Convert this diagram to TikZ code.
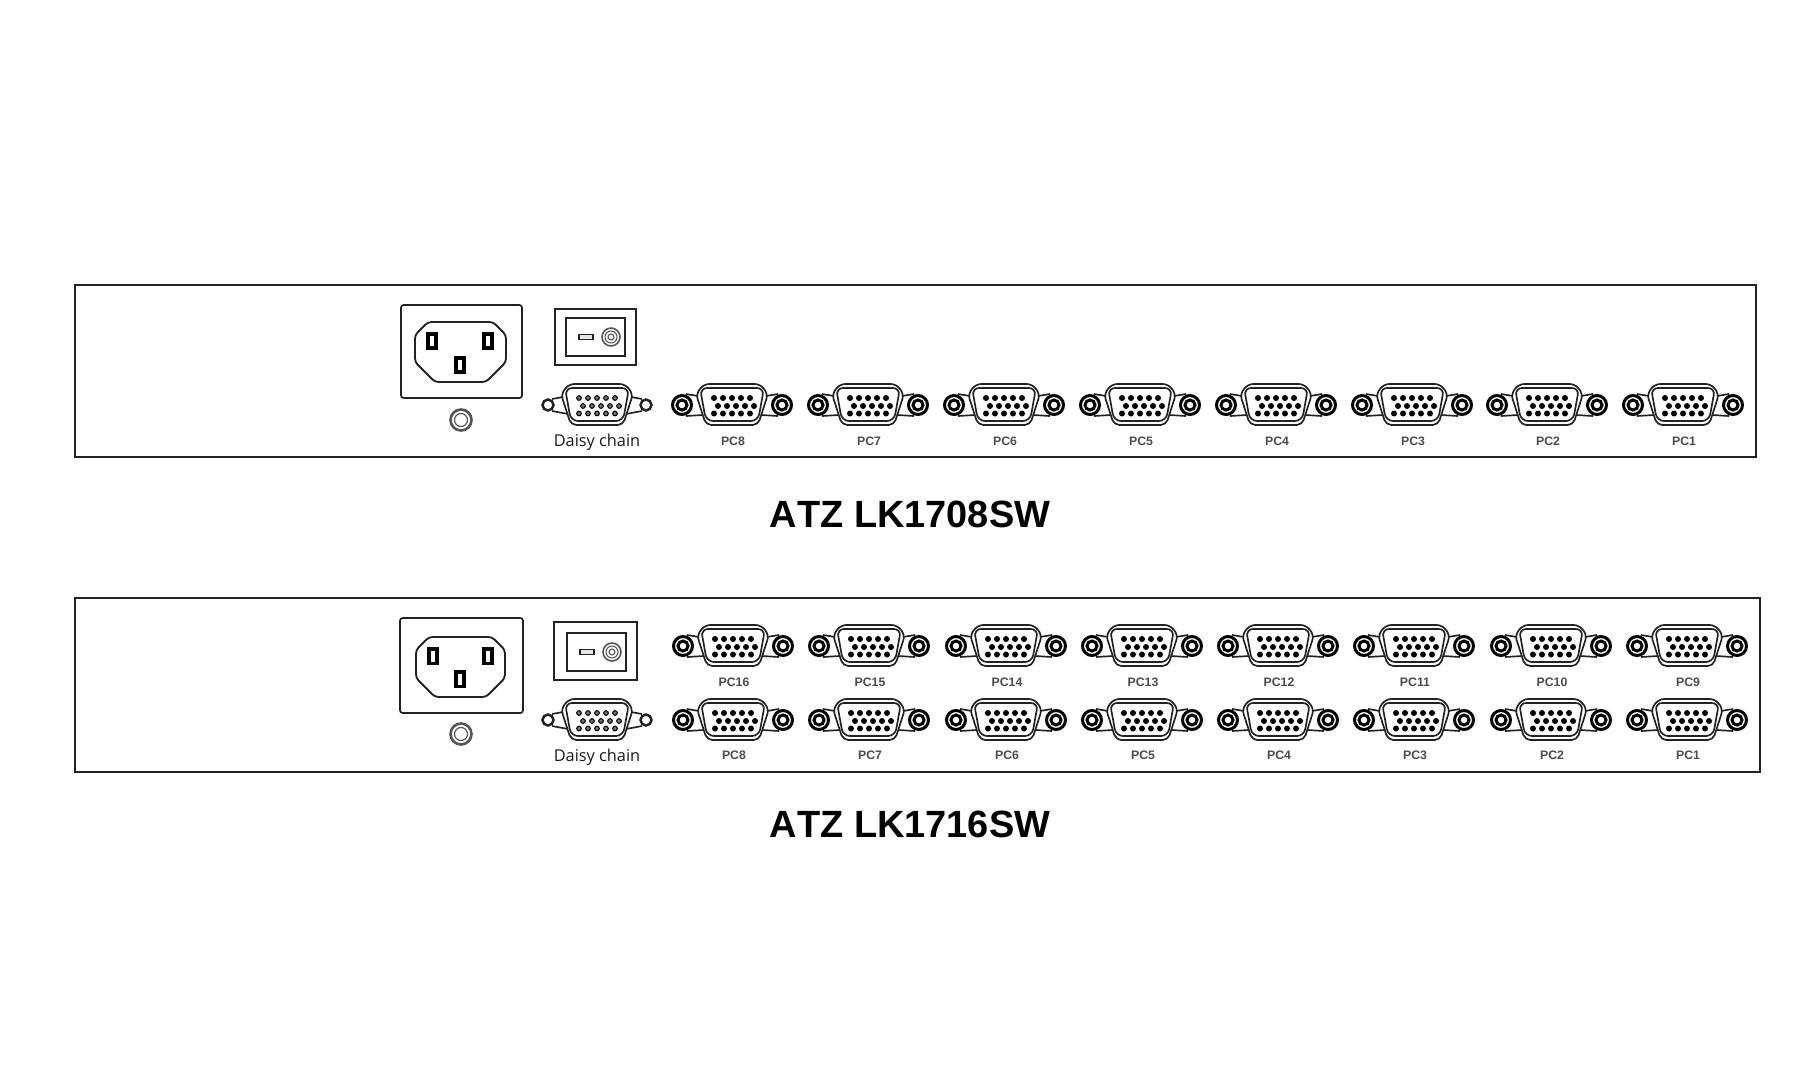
\documentclass[tikz,border=0pt]{standalone}
\usepackage{fontspec}
\setmainfont{Liberation Sans}
\newfontfamily\daisyfont{Open Sans}
\newfontfamily\titlefont[Kerning=Off]{Liberation Sans Bold}
\definecolor{inkline}{HTML}{222222}
\definecolor{screwline}{HTML}{555555}
\begin{document}
\begin{tikzpicture}[x=0.02cm,y=-0.02cm,
% common options for the outlines:
panel/.style = {draw=inkline, line width=1.5pt},
outline/.style = {draw=inkline, line width=0.95pt},
acpin/.style = {draw=black, fill=white, line width=2pt, inner sep=0,
            minimum width=0.15cm, minimum height=0.29cm},
% common options for the labels:
title/.style = {font=\titlefont\fontsize{21.6}{24}\selectfont, text=black},
pclabel/.style = {font=\bfseries\fontsize{7}{8}\selectfont, text=black!70},
daisylabel/.style = {font=\daisyfont\fontsize{9.3}{11}\selectfont, text=black!90},
% the D-sub shell shared by all the ports:
shell/.pic = {
  \draw[outline, rounded corners=3pt] (-28,-21) -- (28,-21) -- (36,-11) -- (26,20) -- (-26,20) -- (-36,-11) -- cycle;
  \draw[outline, rounded corners=4pt] (-32,-17) -- (32,-17) -- (26,16) -- (-26,16) -- cycle;
},
pcport/.pic = {
  \draw[outline] (-34,-9) -- (-46,-11) (-29,10) -- (-46,11) (34,-9) -- (46,-11) (29,10) -- (46,11);
  \draw[line width=1.7pt, draw=black, fill=white] (-50,0) circle (9.5) (50,0) circle (9.5);
  \draw[line width=1.7pt, draw=black] (-50,0) circle (5) (50,0) circle (5);
  \pic {shell};
  \foreach \i in {-2,...,2} {
    \fill[black] ({\i*9},-7) circle (3);
    \fill[black] ({\i*9+4},1) circle (3);
    \fill[black] ({\i*9},8.5) circle (3);
  }
},
daisyport/.pic = {
  \draw[outline] (-34,-8) -- (-45,-6) (-29,9) -- (-45,6) (34,-8) -- (45,-6) (29,9) -- (45,6);
  \draw[line width=1.4pt, draw=inkline, fill=white] (-49,0) circle (5.5) (49,0) circle (5.5);
  \pic {shell};
  \foreach \i in {-2,...,2} {
    \draw[draw=black, fill=black!55, line width=0.6pt] ({\i*9},-7) circle (2.3);
    \draw[draw=black, fill=black!55, line width=0.6pt] ({\i*9+4},1) circle (2.3);
    \draw[draw=black, fill=black!55, line width=0.6pt] ({\i*9},8.5) circle (2.3);
  }
},
screw/.pic = {
  \draw[draw=screwline, line width=1.5pt] (0,0) circle (10.5);
  \draw[draw=screwline, line width=0.7pt] (0,0) circle (6.5);
},
rocker/.pic = {
  \draw[draw=screwline, line width=0.9pt] (0,0) circle (9);
  \draw[draw=screwline, line width=0.6pt] (0,0) circle (6) (0,0) circle (3);
  \draw[draw=inkline, fill=black!10, line width=0.9pt] (-32,-2.5) rectangle (-18,2.5);
}]
\path[fill=white] (0,0) rectangle (1819,1065);
\useasboundingbox (0,0) rectangle (1819,1065);

% upper unit
\draw[panel] (75,285) rectangle (1756,457);
\draw[outline, rounded corners=1.5pt] (401,305) rectangle (522,398);
\draw[panel, line width=1.05pt, rounded corners=2pt] (428,322) -- (493,322) -- (506,335) -- (506,362) -- (486,382) -- (435,382) -- (415,362) -- (415,335) -- cycle;
\node[acpin] (N1) at (432,341) {};
\node[acpin] (L1) at (488,341) {};
\node[acpin] (E1) at (460,365) {};
\pic at (461,420) {screw};
\draw[outline] (555,309) rectangle (636,365);
\draw[outline] (566,318) rectangle (625,356);
\pic at (611,337) {rocker};
\pic at (597,405) {daisyport};
\node[daisylabel] (D1) at (597,442) {Daisy chain};
\foreach \n/\x in {8/732,7/868,6/1004,5/1140,4/1276,3/1412,2/1547,1/1683} {
  \pic at (\x,405) {pcport};
  \node[pclabel] (A\n) at (\x+1,441) {PC\n};
}
\node[title] (T1) at (910,514) {ATZ LK1708SW};

% lower unit
\draw[panel] (75,598) rectangle (1760,772);
\draw[outline, rounded corners=1.5pt] (400,618) rectangle (523,713);
\draw[panel, line width=1.05pt, rounded corners=2pt] (429,637) -- (492,637) -- (505,650) -- (505,678) -- (486,697) -- (435,697) -- (416,678) -- (416,650) -- cycle;
\node[acpin] (N2) at (433,656) {};
\node[acpin] (L2) at (488,656) {};
\node[acpin] (E2) at (460,679) {};
\pic at (461,734) {screw};
\draw[outline] (554,622) rectangle (637,680);
\draw[outline] (567,633) rectangle (626,671);
\pic at (612,652) {rocker};
\pic at (597,720) {daisyport};
\node[daisylabel] (D2) at (597,757) {Daisy chain};
\foreach \n/\x in {8/733,7/869,6/1006,5/1142,4/1278,3/1414,2/1551,1/1687} {
  \pic at (\x,720) {pcport};
  \node[pclabel] (B\n) at (\x+1,755) {PC\n};
}
\foreach \n/\x in {16/733,15/869,14/1006,13/1142,12/1278,11/1414,10/1551,9/1687} {
  \pic at (\x,646) {pcport};
  \node[pclabel] (B\n) at (\x+1,682) {PC\n};
}
\node[title] (T2) at (910,824) {ATZ LK1716SW};
\end{tikzpicture}
\end{document}
